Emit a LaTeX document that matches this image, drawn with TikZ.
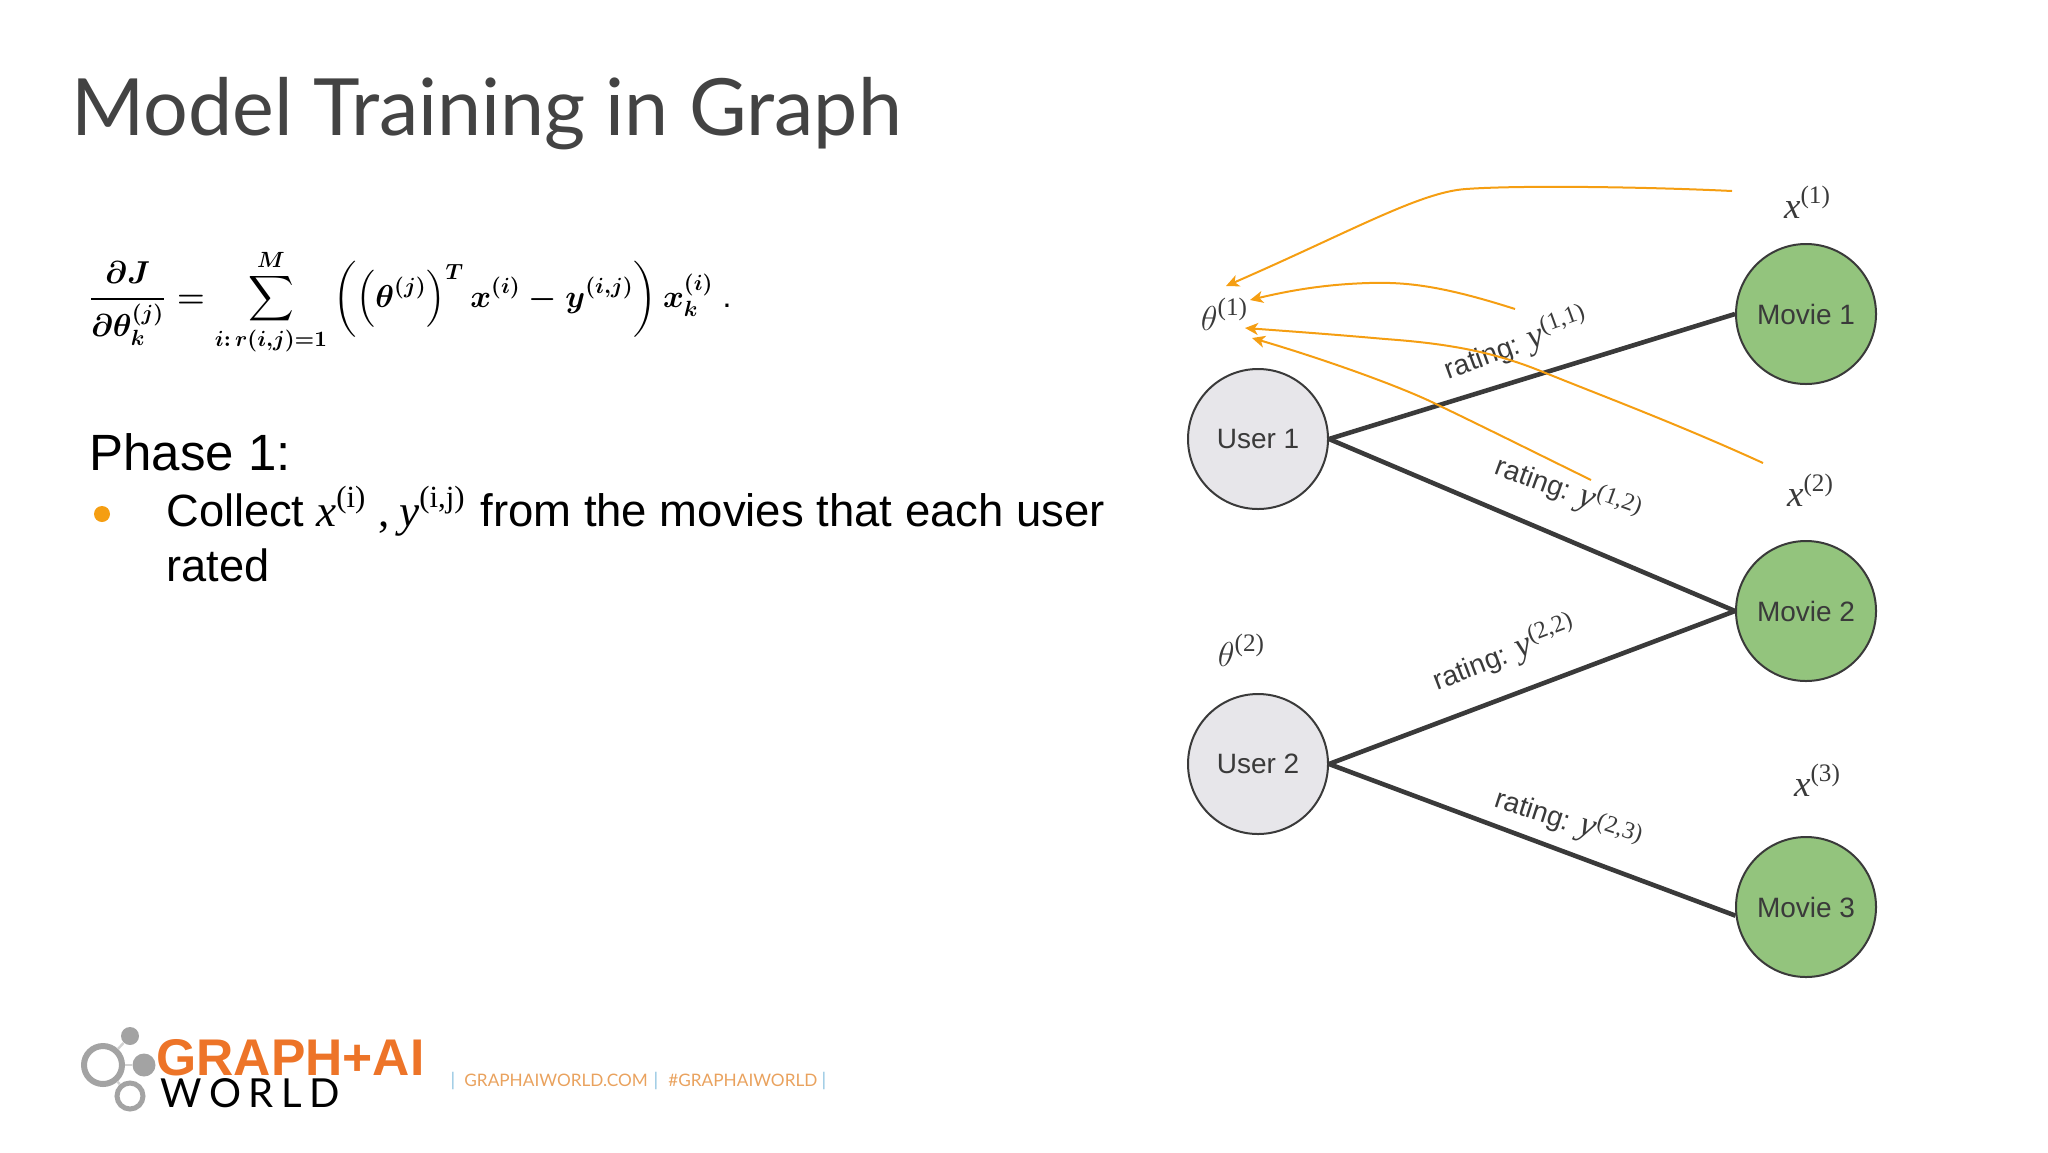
\documentclass[tikz,border=0pt]{standalone}
\usepackage{amsmath}
\usepackage{graphicx}
\usepackage{fontspec}
\setmainfont{Liberation Sans}
\newfontfamily\ser{Liberation Serif}
\newfontfamily\titlefont{Lato}
\newfontfamily\wrldfont[LetterSpace=19]{Lato}
\usetikzlibrary{arrows.meta}
\definecolor{ink}{HTML}{3A3A3A}
\definecolor{titlegray}{HTML}{434343}
\definecolor{usergray}{HTML}{E7E6EA}
\definecolor{moviegreen}{HTML}{93C47D}
\definecolor{amber}{HTML}{F59E12}
\definecolor{logoorange}{HTML}{ED7428}
\definecolor{footorange}{HTML}{E9A25E}
\definecolor{footblue}{HTML}{8FC4E0}
\definecolor{ringgray}{HTML}{A3A3A3}
\definecolor{linkgray}{HTML}{D2D2D2}
\newcommand\mlab[2]{{\ser\itshape #1}\raisebox{.4em}{\scalebox{.68}{\ser #2}}}
\newcommand\rlab[2]{rating: \mlab{\fontsize{17.8}{22}\selectfont #1}{\fontsize{17.8}{22}\selectfont #2}}
\tikzset{
  usernode/.style={circle,draw=ink,line width=1pt,fill=usergray,minimum size=70pt,inner sep=0pt,text=ink,font=\fontsize{14}{16}\selectfont},
  movienode/.style={circle,draw=ink,line width=1pt,fill=moviegreen,minimum size=70pt,inner sep=0pt,text=ink,font=\fontsize{14}{16}\selectfont},
  edgeline/.style={draw=ink,line width=2.3pt},
  grad/.style={draw=amber,line width=1pt,-{Stealth[length=6.5pt,width=6pt,inset=1.8pt]}},
  ratelabel/.style={inner sep=0pt,text=ink,font=\fontsize{14}{17}\selectfont},
  symlabel/.style={inner sep=0pt,text=ink,font=\fontsize{18.5}{22}\selectfont},
  bodytext/.style={inner sep=0pt,anchor=base west,text=black},
  ring/.style={circle,draw=ringgray,fill=white,inner sep=0pt},
  foottext/.style={inner sep=0pt,anchor=base west,text=footorange,font=\titlefont\fontsize{8.6}{11}\selectfont},
  footbar/.style={inner sep=0pt,anchor=base,text=footblue,font=\titlefont\fontsize{9.3}{11}\selectfont}
}
\begin{document}
\begin{tikzpicture}[x=0.5pt,y=-0.5pt]
\useasboundingbox (0,0) rectangle (2048,1152);
% title
\node[inner sep=0pt,anchor=base west,text=titlegray,font=\titlefont\fontsize{39.5}{46}\selectfont] (title) at (71,135) {Model Training in Graph};
% formula
\node[inner sep=0pt,anchor=west,text=black,scale=1.1] (formula) at (88,302) {\fontsize{14.5}{18}\selectfont $\boldsymbol{\displaystyle \frac{\partial J}{\partial\theta_k^{(j)}}=\sum_{i:\,r(i,j)=1}^{M}\left(\left(\theta^{(j)}\right)^{T}x^{(i)}-y^{(i,j)}\right)x_k^{(i)}}$ .};
% phase text
\node[bodytext,font=\fontsize{25.5}{30}\selectfont] (phase) at (89,470) {Phase 1:};
\node[circle,fill=amber,minimum size=8pt,inner sep=0pt] (bullet) at (102,514) {};
\node[bodytext,font=\fontsize{22.6}{27}\selectfont] (collect) at (166,526) {Collect};
\node[bodytext,font=\fontsize{22.6}{27}\selectfont] (xi) at (316,526) {\mlab{x}{(i)}};
\node[bodytext,font=\fontsize{22.6}{27}\selectfont] (comma) at (378,526) {\ser ,};
\node[bodytext,font=\fontsize{22.6}{27}\selectfont] (yij) at (399,526) {\mlab{y}{(i,j)}};
\node[bodytext,font=\fontsize{22.75}{27}\selectfont] (from) at (480,526) {from the movies that each user};
\node[bodytext,font=\fontsize{22.6}{27}\selectfont] (rated) at (166,581) {rated};
% graph nodes
\node[usernode] (u1) at (1258,439) {User 1};
\node[usernode] (u2) at (1258,764) {User 2};
\node[movienode] (m1) at (1806,314) {Movie 1};
\node[movienode] (m2) at (1806,611) {Movie 2};
\node[movienode] (m3) at (1806,907) {Movie 3};
% edges
\draw[edgeline] (u1.east) -- (m1.west);
\draw[edgeline] (u1.east) -- (m2.west);
\draw[edgeline] (u2.east) -- (m2.west);
\draw[edgeline] (u2.east) -- (m3.187);
% symbols
\node[symlabel] (t1) at (1224,314) {\mlab{$\theta$}{(1)}};
\node[symlabel] (t2) at (1241,650) {\mlab{$\theta$}{(2)}};
\node[symlabel] (x1) at (1807,202) {\mlab{x}{(1)}};
\node[symlabel] (x2) at (1810,490) {\mlab{x}{(2)}};
\node[symlabel] (x3) at (1817,780) {\mlab{x}{(3)}};
% rating labels
\node[ratelabel,rotate=20] (r11) at (1516,344) {\rlab{y}{(1,1)}};
\node[ratelabel,rotate=-20] (r12) at (1568,490) {\rlab{y}{(1,2)}};
\node[ratelabel,rotate=21] (r22) at (1504,654) {\rlab{y}{(2,2)}};
\node[ratelabel,rotate=-18] (r23) at (1568,820) {\rlab{y}{(2,3)}};
% gradient arrows
\coordinate (a1s) at (1732,191); \coordinate (a1e) at (1226,286);
\coordinate (a2s) at (1515,309); \coordinate (a2e) at (1250,300);
\coordinate (a3s) at (1763,463); \coordinate (a3e) at (1245,328);
\coordinate (a4s) at (1591,480); \coordinate (a4e) at (1252,338);
\draw[grad] (a1s) .. controls (1650,187) and (1520,185) .. (1466,189) .. controls (1420,192) and (1350,232) .. (a1e);
\draw[grad] (a2s) .. controls (1440,285) and (1405,282) .. (1369,283) .. controls (1335,284) and (1300,288) .. (a2e);
\draw[grad] (a3s) .. controls (1680,425) and (1600,395) .. (1543,372) .. controls (1490,350) and (1440,343) .. (1385,339) .. controls (1340,335) and (1300,332) .. (a3e);
\draw[grad] (a4s) .. controls (1540,455) and (1490,430) .. (1438,405) .. controls (1400,386) and (1320,358) .. (a4e);
% logo
\node[circle,fill=ringgray,minimum size=9pt,inner sep=0pt] (ltop) at (130,1036) {};
\node[ring,line width=3pt,minimum size=19pt] (lleft) at (103,1065) {};
\node[circle,fill=ringgray,minimum size=11.5pt,inner sep=0pt] (lmid) at (144,1065) {};
\node[ring,line width=2.5pt,minimum size=13pt] (lbot) at (130,1096) {};
\draw[linkgray,line width=1.2pt] (lleft) -- (ltop);
\draw[linkgray,line width=1.2pt] (lleft) -- (lmid);
\draw[linkgray,line width=1.2pt] (lleft) -- (lbot);
\node[inner sep=0pt,anchor=base west,text=logoorange,font=\bfseries\fontsize{25.8}{30}\selectfont] (lgraph) at (156,1075) {GRAPH+AI};
\node[inner sep=0pt,anchor=base west,text=black,font=\wrldfont\fontsize{20}{24}\selectfont] (lworld) at (160,1107) {WORLD};
% footer
\node[footbar] (b1) at (453,1086) {|};
\node[foottext] (f1) at (464,1086) {GRAPHAIWORLD.COM};
\node[footbar] (b2) at (656,1086) {|};
\node[foottext] (f2) at (668,1086) {\#GRAPHAIWORLD};
\node[footbar] (b3) at (824,1086) {|};
\end{tikzpicture}
\end{document}
